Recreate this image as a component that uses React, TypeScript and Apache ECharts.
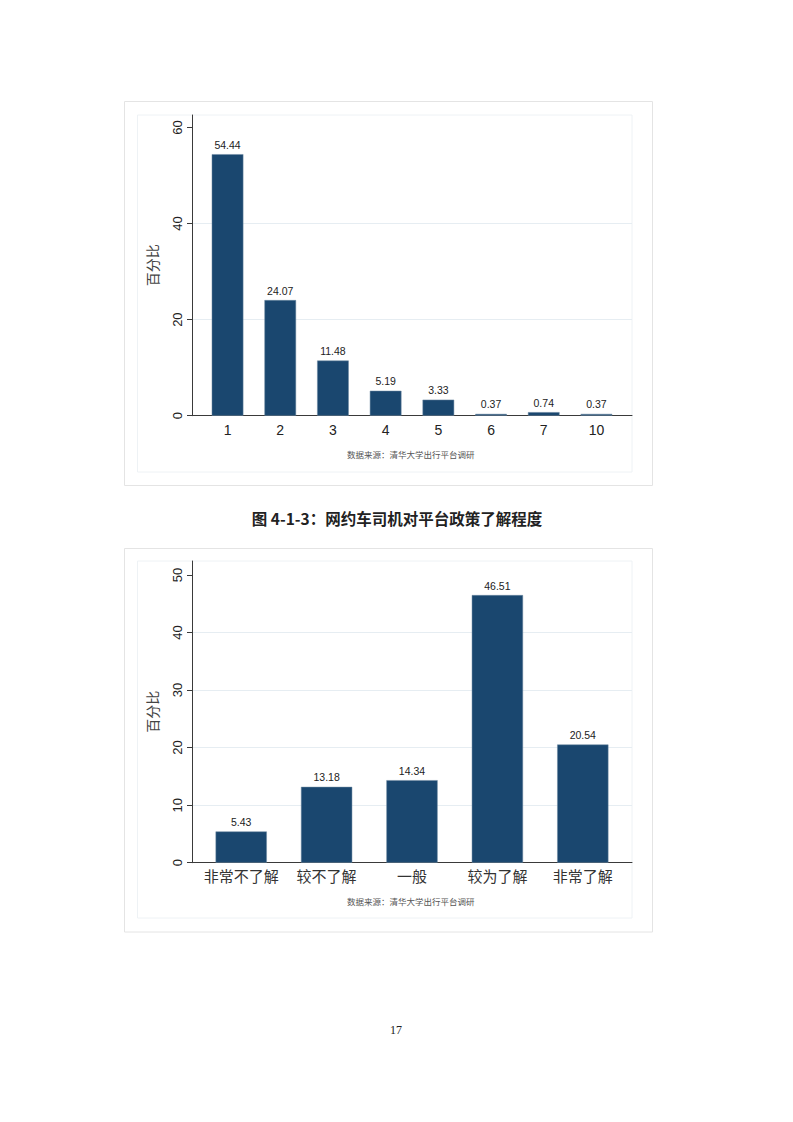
import React, { useEffect, useRef } from "react";
import * as echarts from "echarts";

const cats1 = ["1", "2", "3", "4", "5", "6", "7", "10"];
const vals1 = [54.44, 24.07, 11.48, 5.19, 3.33, 0.37, 0.74, 0.37];
const yTicks1 = [0, 20, 40, 60];
const yMax1 = 62.6;

const cats2 = ["非常不了解", "较不了解", "一般", "较为了解", "非常了解"];
const vals2 = [5.43, 13.18, 14.34, 46.51, 20.54];
const yTicks2 = [0, 10, 20, 30, 40, 50];
const yMax2 = 52.43;

const yTitle = "百分比";
const sourceText = "数据来源：清华大学出行平台调研";
const caption = "图 4-1-3：网约车司机对平台政策了解程度";
const pageNo = "17";

const NAVY = "#1a476f";
const NUM_FONT = "Liberation Sans, Arial, sans-serif";
const CJK_FONT = "Noto Sans CJK SC, sans-serif";

function frameAxes(gridIndex: number, max: number, ticks: number[], interval: number) {
  const xAxis = {
    gridIndex,
    type: "value",
    min: 0,
    max: 1,
    axisLine: { show: true, lineStyle: { color: "#3a3a3a", width: 1 } },
    axisTick: { show: false },
    axisLabel: { show: false },
    splitLine: { show: false },
  };
  const yAxis = {
    gridIndex,
    type: "value",
    min: 0,
    max,
    interval,
    name: yTitle,
    nameLocation: "middle",
    nameGap: 33,
    nameTextStyle: { fontSize: 14, color: "#444", fontFamily: CJK_FONT },
    axisLine: { show: true, lineStyle: { color: "#3a3a3a", width: 1 } },
    axisTick: { show: true, length: 5, customValues: ticks, lineStyle: { color: "#3a3a3a" } },
    axisLabel: {
      show: true,
      rotate: 90,
      margin: 8,
      fontSize: 13,
      color: "#222",
      fontFamily: NUM_FONT,
      customValues: ticks,
      formatter: (v: number) => (ticks.indexOf(v) >= 0 ? String(v) : ""),
    },
    splitLine: { show: true, showMaxLine: false, lineStyle: { color: "#e6edf2", width: 1 } },
  };
  return { xAxis, yAxis };
}

function barAxes(gridIndex: number, max: number, cats: string[], labelStyle: any) {
  const xAxis = {
    gridIndex,
    type: "category",
    data: cats,
    boundaryGap: true,
    axisLine: { show: false },
    axisTick: { show: false },
    axisLabel: { show: true, interval: 0, ...labelStyle },
    splitLine: { show: false },
  };
  const yAxis = {
    gridIndex,
    type: "value",
    min: 0,
    max,
    show: false,
    splitLine: { show: false },
  };
  return { xAxis, yAxis };
}

function barSeries(axisIndex: number, vals: number[]) {
  return {
    type: "bar",
    xAxisIndex: axisIndex,
    yAxisIndex: axisIndex,
    data: vals,
    barCategoryGap: "40%",
    itemStyle: { color: NAVY, borderColor: "#6f8aa3", borderWidth: 0.5 },
    label: {
      show: true,
      position: "top",
      distance: 4,
      fontSize: 10.5,
      color: "#222",
      fontFamily: NUM_FONT,
      formatter: (p: any) => Number(p.value).toFixed(2),
    },
  };
}

export default function App() {
  const ref = useRef<HTMLDivElement>(null);

  useEffect(() => {
    if (!ref.current) return;
    const chart = echarts.init(ref.current, undefined, { renderer: "svg" });

    const f1 = frameAxes(0, yMax1, yTicks1, 20);
    const b1 = barAxes(1, yMax1, cats1, { fontSize: 14, color: "#222", fontFamily: NUM_FONT, margin: 7 });
    const f2 = frameAxes(2, yMax2, yTicks2, 10);
    const b2 = barAxes(3, yMax2, cats2, { fontSize: 15, color: "#333", fontFamily: CJK_FONT, margin: 5 });

    chart.setOption({
      animation: false,
      backgroundColor: "#ffffff",
      grid: [
        { left: 192, top: 115, width: 440, height: 300.7, containLabel: false },
        { left: 201.2, top: 115, width: 421.6, height: 300.7, containLabel: false },
        { left: 192, top: 561, width: 440, height: 301.7, containLabel: false },
        { left: 198.5, top: 561, width: 427, height: 301.7, containLabel: false },
      ],
      xAxis: [f1.xAxis, b1.xAxis, f2.xAxis, b2.xAxis],
      yAxis: [f1.yAxis, b1.yAxis, f2.yAxis, b2.yAxis],
      series: [barSeries(1, vals1), barSeries(3, vals2)],
      graphic: [
        { type: "rect", z: -10, shape: { x: 124.5, y: 101.5, width: 528, height: 384 }, style: { fill: "none", stroke: "#e4e4e4", lineWidth: 1 } },
        { type: "rect", z: -10, shape: { x: 137.5, y: 115, width: 494.5, height: 357 }, style: { fill: "none", stroke: "#eef2f5", lineWidth: 1 } },
        { type: "rect", z: -10, shape: { x: 124.5, y: 548.5, width: 528, height: 383.5 }, style: { fill: "none", stroke: "#e4e4e4", lineWidth: 1 } },
        { type: "rect", z: -10, shape: { x: 137.5, y: 561, width: 494.5, height: 357 }, style: { fill: "none", stroke: "#eef2f5", lineWidth: 1 } },
        { type: "text", x: 410.7, y: 454, style: { text: sourceText, fontSize: 8.5, fill: "#555", fontFamily: CJK_FONT, textAlign: "center", textVerticalAlign: "middle" } },
        { type: "text", x: 410.7, y: 901, style: { text: sourceText, fontSize: 8.5, fill: "#555", fontFamily: CJK_FONT, textAlign: "center", textVerticalAlign: "middle" } },
        { type: "text", x: 397, y: 518, style: { text: caption, fontSize: 15.5, fontWeight: "bold", fill: "#222", fontFamily: CJK_FONT, textAlign: "center", textVerticalAlign: "middle" } },
        { type: "text", x: 396, y: 1030, style: { text: pageNo, fontSize: 12, fill: "#222", fontFamily: "Liberation Serif, serif", textAlign: "center", textVerticalAlign: "middle" } },
      ],
    });

    return () => chart.dispose();
  }, []);

  return (
    <div
      ref={ref}
      style={{ position: "absolute", left: 0, top: 0, width: 793, height: 1122, background: "#fff" }}
    />
  );
}
